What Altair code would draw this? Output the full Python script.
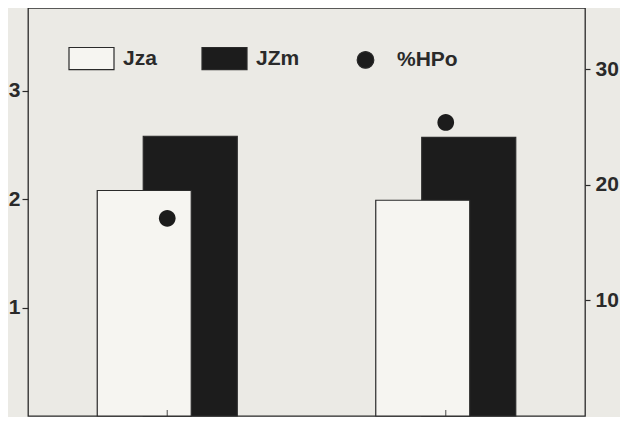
import altair as alt
import pandas as pd

# ---- data ----
groups = ["Group 1", "Group 2"]
series = ["Jza", "JZm", "%HPo"]
jza = [2.08, 1.99]        # left axis
jzm = [2.58, 2.57]        # left axis
hpo = [17.1, 25.4]        # right axis (%)
left_ticks = [1, 2, 3]
right_ticks = [10, 20, 30]

bars = pd.DataFrame({
    "group": groups * 2,
    "series": ["Jza"] * len(groups) + ["JZm"] * len(groups),
    "value": jza + jzm,
})
pts = pd.DataFrame({"group": groups, "series": ["%HPo"] * len(groups), "value": hpo})
base_ticks = pd.DataFrame({"group": groups})

INK = "#2a2a2a"
PAPER = "#ebeae5"
FONT = "Liberation Sans"

RECT = "M-1,-0.49L1,-0.49L1,0.49L-1,0.49Z"
r = 0.37
CIRC = f"M{-r},0A{r},{r} 0 1,1 {r},0A{r},{r} 0 1,1 {-r},0Z"

fill_scale = alt.Scale(domain=series, range=["#f6f5f1", "#1c1c1c", "#1c1c1c"])
shape_scale = alt.Scale(domain=series, range=[RECT, RECT, CIRC])

legend = alt.Legend(
    title=None, orient="none", legendX=40, legendY=27, direction="horizontal",
    labelFont=FONT, labelFontSize=21, labelFontWeight="bold", labelColor=INK,
    symbolSize=2025, symbolStrokeColor=INK, symbolStrokeWidth=1.2,
    columnPadding=42, labelOffset=8, padding=0,
)

xenc = alt.X("group:N", scale=alt.Scale(domain=groups, paddingInner=0, paddingOuter=0), axis=None)

left_axis = alt.Axis(
    orient="left", values=left_ticks, format="d", title=None, grid=False, domain=False,
    tickSize=6, tickColor=INK, tickWidth=1.2, labelPadding=2,
    labelFont=FONT, labelFontSize=21, labelFontWeight="bold", labelColor=INK,
)
right_axis = alt.Axis(
    orient="right", values=right_ticks, format="d", title=None, grid=False, domain=False,
    tickSize=5, tickColor=INK, tickWidth=1.2, labelPadding=5,
    labelFont=FONT, labelFontSize=21, labelFontWeight="bold", labelColor=INK,
)

yleft = alt.Scale(domain=[0, 3.763], nice=False, zero=False)
yright = alt.Scale(domain=[0, 35.3], nice=False, zero=False)

black = alt.Chart(bars).transform_filter(alt.datum.series == "JZm").mark_bar(
    width=94, xOffset=23, stroke=INK, strokeWidth=1.2
).encode(
    x=xenc,
    y=alt.Y("value:Q", scale=yleft, axis=left_axis),
    fill=alt.Fill("series:N", scale=fill_scale, legend=legend),
)
white = alt.Chart(bars).transform_filter(alt.datum.series == "Jza").mark_bar(
    width=94, xOffset=-23, stroke=INK, strokeWidth=1.2
).encode(
    x=xenc,
    y=alt.Y("value:Q", scale=yleft, axis=left_axis),
    fill=alt.Fill("series:N", scale=fill_scale, legend=legend),
)
ticks = alt.Chart(base_ticks).mark_tick(
    size=6, thickness=1.2, color=INK, yOffset=-3, orient="vertical"
).encode(x=xenc, y=alt.datum(0, scale=yleft))

left = alt.layer(black, white, ticks)

points = alt.Chart(pts).mark_point(filled=True, size=2025, opacity=1).encode(
    x=xenc,
    y=alt.Y("value:Q", scale=yright, axis=right_axis),
    fill=alt.Fill("series:N", scale=fill_scale, legend=legend),
    shape=alt.Shape("series:N", scale=shape_scale, legend=legend),
)

chart = alt.layer(left, points).resolve_scale(y="independent").properties(
    width=557, height=408, background=PAPER,
    autosize=alt.AutoSizeParams(type="none"),
    padding={"left": 20, "right": 35, "top": 0, "bottom": 1},
).configure_view(stroke=INK, strokeWidth=1.3, fill=PAPER)

chart.save("out.html", embed_options={"renderer": "svg", "actions": False})
